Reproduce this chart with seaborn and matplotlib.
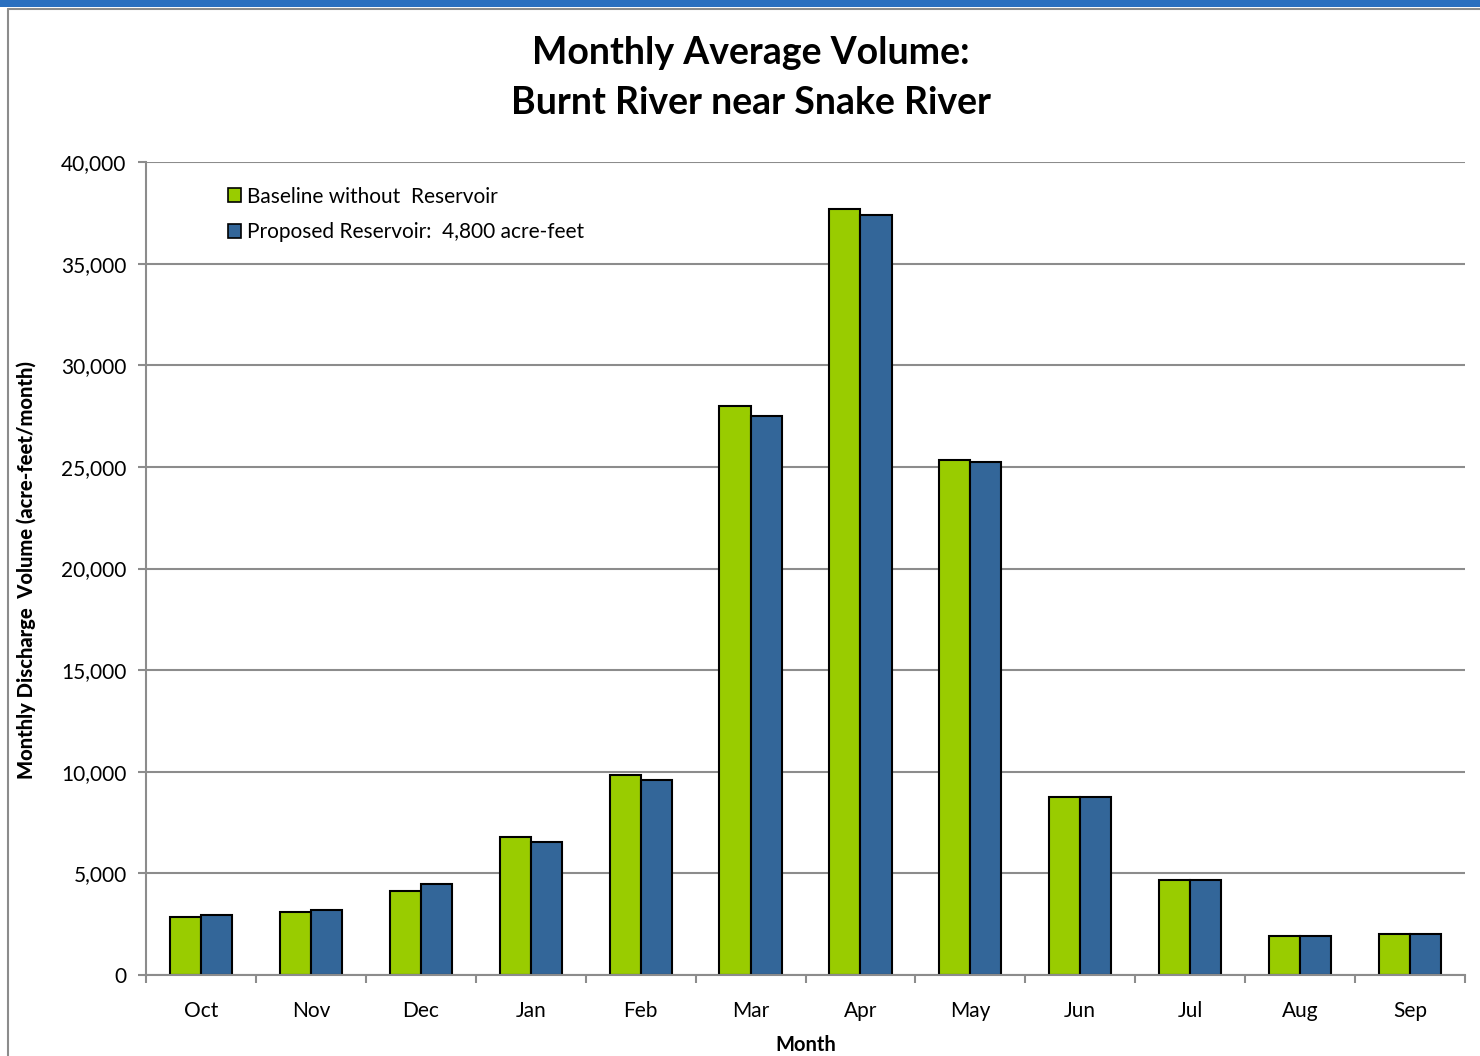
import numpy as np
import pandas as pd
import seaborn as sns
import matplotlib
matplotlib.use("Agg")
import matplotlib.pyplot as plt
from matplotlib.patches import Rectangle
from matplotlib.lines import Line2D
from matplotlib.ticker import FuncFormatter, FixedLocator

months = ["Oct", "Nov", "Dec", "Jan", "Feb", "Mar", "Apr", "May", "Jun", "Jul", "Aug", "Sep"]
baseline = [2850, 3100, 4130, 6790, 9840, 27990, 37680, 25330, 8750, 4670, 1920, 2020]
proposed = [2950, 3200, 4480, 6540, 9590, 27500, 37380, 25230, 8750, 4670, 1920, 2020]
series_names = ["Baseline without  Reservoir", "Proposed Reservoir:  4,800 acre-feet"]
colors = ["#99CC00", "#336699"]

df = pd.DataFrame({
    "Month": months * 2,
    "Volume": baseline + proposed,
    "Series": [series_names[0]] * len(months) + [series_names[1]] * len(months),
})

sns.set_theme(style="white")
plt.rcParams["font.family"] = ["Lato", "DejaVu Sans"]

W, H = 1480, 1056
fig = plt.figure(figsize=(W / 100, H / 100), dpi=100)
ax = fig.add_axes([146 / W, 1 - 975 / H, (1465 - 146) / W, (975 - 162) / H])

sns.barplot(data=df, x="Month", y="Volume", hue="Series", order=months,
            hue_order=series_names, palette=colors, width=0.565, gap=0,
            edgecolor="black", linewidth=1.5, saturation=1, ax=ax, errorbar=None)

ax.set_xlim(-0.5, len(months) - 0.5)
ax.set_ylim(0, 40000)
ax.set_yticks(np.arange(0, 40001, 5000))
ax.yaxis.set_major_formatter(FuncFormatter(lambda v, p: f"{int(v):,}"))
ax.grid(axis="y", color="#8c8c8c", linewidth=1.5)
ax.set_axisbelow(True)
for s in ["top", "right"]:
    ax.spines[s].set_visible(False)
for s in ["left", "bottom"]:
    ax.spines[s].set_color("#8c8c8c")
    ax.spines[s].set_linewidth(1.5)

ax.tick_params(axis="y", which="major", length=6, width=1.5, color="#8c8c8c",
               labelsize=15, pad=8, left=True, labelcolor="black")
ax.xaxis.set_minor_locator(FixedLocator(np.arange(-0.5, len(months), 1.0)))
ax.tick_params(axis="x", which="major", length=0, labelsize=15, pad=19, labelcolor="black")
ax.tick_params(axis="x", which="minor", length=6, width=1.5, color="#8c8c8c", bottom=True)

ax.set_xlabel("")
ax.set_ylabel("")
fig.text(806 / W, 1 - 1045 / H, "Month", ha="center", va="center",
         fontsize=14.5, fontweight="bold", color="black")
fig.text(26 / W, 1 - 570 / H, "Monthly Discharge  Volume (acre-feet/month)",
         ha="center", va="center", rotation=90, fontsize=14.5, fontweight=900,
         color="black")

leg = ax.legend(loc="upper left", bbox_to_anchor=(0.0555, 0.98), frameon=False,
                fontsize=15, handlelength=0.65, handleheight=0.65, handletextpad=0.3,
                labelspacing=0.75, borderaxespad=0)
for h in leg.legend_handles:
    h.set_edgecolor("black")
    h.set_linewidth(1.2)
for t in leg.get_texts():
    t.set_color("black")

fig.text(751 / W, 1 - 53 / H, "Monthly Average Volume:", ha="center", va="center",
         fontsize=27, fontweight="bold", color="black")
fig.text(751 / W, 1 - 103 / H, "Burnt River near Snake River", ha="center", va="center",
         fontsize=27, fontweight="bold", color="black")

# frame decorations
fig.add_artist(Rectangle((0, 1 - 7 / H), 1, 7 / H, transform=fig.transFigure,
                         facecolor="#2a6fbf", edgecolor="none"))
fig.add_artist(Line2D([8 / W, 1], [1 - 9 / H, 1 - 9 / H], transform=fig.transFigure,
                      color="#8c8c8c", linewidth=1.5))
fig.add_artist(Line2D([8 / W, 8 / W], [0, 1 - 9 / H], transform=fig.transFigure,
                      color="#8c8c8c", linewidth=1.5))

fig.savefig("out.png", dpi=100)
